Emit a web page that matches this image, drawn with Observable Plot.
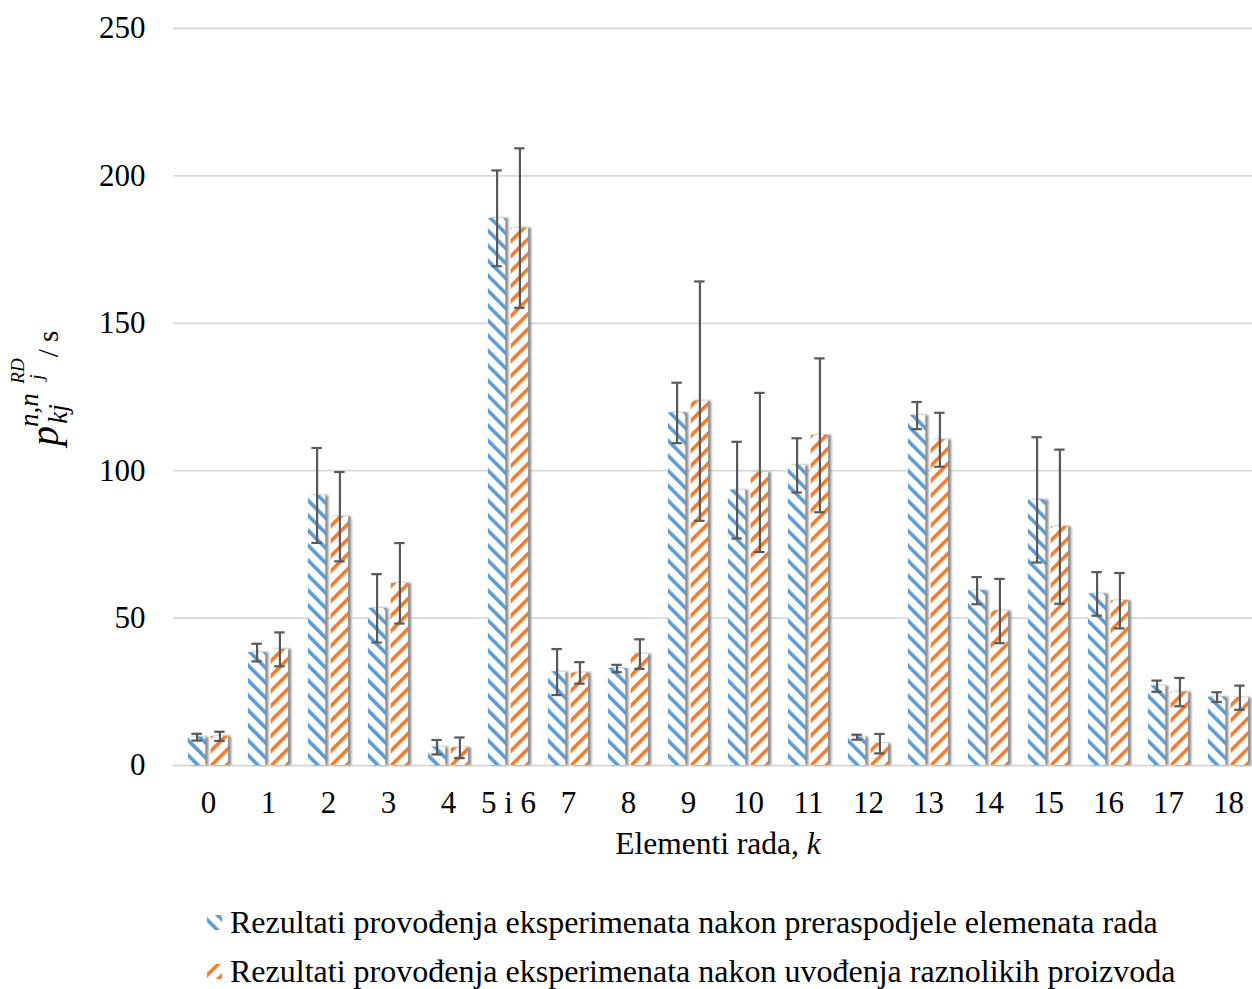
<!DOCTYPE html>
<html><head><meta charset="utf-8">
<script src="https://cdn.jsdelivr.net/npm/d3@7"></script>
<script src="https://cdn.jsdelivr.net/npm/@observablehq/plot@0.6"></script>
<style>
html,body{margin:0;padding:0;background:#fff;overflow:hidden;}
#chart svg{display:block}
#legend{display:block}
</style></head><body>
<svg width="0" height="0" style="position:absolute">
<defs>
<pattern id="hatchBlue" patternUnits="userSpaceOnUse" width="10.6" height="10.6" patternTransform="rotate(-45)">
<rect width="10.6" height="10.6" fill="#fff"/><rect width="3.6" height="10.6" fill="#5b9bd5"/>
</pattern>
<pattern id="hatchOrange" patternUnits="userSpaceOnUse" width="10.6" height="10.6" patternTransform="rotate(45)">
<rect width="10.6" height="10.6" fill="#fff"/><rect width="3.6" height="10.6" fill="#ed7d31"/>
</pattern>
<filter id="soft" x="-50%" y="-10%" width="200%" height="120%"><feGaussianBlur stdDeviation="1.3"/></filter>
</defs></svg>
<div id="chart"></div>
<script>
const categories = ["0","1","2","3","4","5 i 6","7","8","9","10","11","12","13","14","15","16","17","18"];
const seriesNames = [
  "Rezultati provođenja eksperimenata nakon preraspodjele elemenata rada",
  "Rezultati provođenja eksperimenata nakon uvođenja raznolikih proizvoda"
];
const blueMean = [9.6, 38.3, 91.6, 53.3, 6.2, 185.6, 31.7, 32.9, 119.6, 93.4, 101.8, 9.6, 118.7, 59.3, 90.1, 58.2, 26.9, 23.2];
const blueErr  = [1.15, 3.0, 16.1, 11.6, 2.45, 16.25, 7.8, 1.25, 10.25, 16.4, 9.2, 0.85, 4.6, 4.6, 21.25, 7.4, 1.9, 1.65];
const orangeMean = [9.9, 39.4, 84.4, 61.8, 6.0, 182.3, 31.4, 37.8, 123.6, 99.4, 112.0, 7.4, 110.5, 52.4, 81.0, 55.9, 24.9, 23.0];
const orangeErr  = [1.55, 5.75, 15.15, 13.65, 3.5, 27.05, 3.65, 5.0, 40.6, 27.0, 26.1, 3.3, 9.15, 10.9, 26.15, 9.4, 4.8, 4.1];
const yTicks = [0, 50, 100, 150, 200, 250];

const FONT = "'Liberation Serif', 'Times New Roman', Times, 'DejaVu Serif', serif";
const W = 1263, H = 880, ML = 173, MR = 0, MT = 28, MB = H - 765;
const band = (W - ML - MR) / categories.length;
const off = 11.4, barW = 18, capW = 11;
function ins(sign, w) {
  const c = band / 2 + sign * off;
  return {insetLeft: c - w / 2, insetRight: band - c - w / 2};
}
const mk = (mean, err) => categories.map((c, i) => ({cat: c, v: mean[i], lo: mean[i] - err[i], hi: mean[i] + err[i]}));
const dA = mk(blueMean, blueErr), dB = mk(orangeMean, orangeErr);

const plot = Plot.plot({
  width: W, height: H,
  marginLeft: ML, marginRight: MR, marginTop: MT, marginBottom: MB,
  style: {fontFamily: FONT, fontSize: "31px", color: "#000", background: "#fff", maxWidth: "none"},
  x: {type: "band", domain: categories, padding: 0, tickSize: 0, tickPadding: 25, label: null},
  y: {domain: [0, 250], ticks: 5, tickSize: 0, tickPadding: 28, label: null},
  marks: [
    Plot.ruleY(yTicks, {stroke: "#d9d9d9", strokeWidth: 1.8}),
    Plot.barY(dA, {x: "cat", y: "v", fill: "#7f7f7f", dx: 3, ...ins(-1, barW), ariaDescription: "shadow"}),
    Plot.barY(dB, {x: "cat", y: "v", fill: "#7f7f7f", dx: 3, ...ins(1, barW), ariaDescription: "shadow"}),
    Plot.barY(dA, {x: "cat", y: "v", fill: "url(#hatchBlue)", ...ins(-1, barW)}),
    Plot.barY(dB, {x: "cat", y: "v", fill: "url(#hatchOrange)", ...ins(1, barW)}),
    Plot.ruleX(dA, {x: "cat", y1: "lo", y2: "hi", dx: -off, stroke: "#595959", strokeWidth: 2.2}),
    Plot.ruleX(dB, {x: "cat", y1: "lo", y2: "hi", dx: off, stroke: "#595959", strokeWidth: 2.2}),
    Plot.tickY(dA, {x: "cat", y: "lo", stroke: "#595959", strokeWidth: 2.2, ...ins(-1, capW)}),
    Plot.tickY(dA, {x: "cat", y: "hi", stroke: "#595959", strokeWidth: 2.2, ...ins(-1, capW)}),
    Plot.tickY(dB, {x: "cat", y: "lo", stroke: "#595959", strokeWidth: 2.2, ...ins(1, capW)}),
    Plot.tickY(dB, {x: "cat", y: "hi", stroke: "#595959", strokeWidth: 2.2, ...ins(1, capW)})
  ]
});
const svg = d3.select(plot);
svg.attr("font-family", FONT);
svg.selectAll("text").attr("font-family", FONT);
svg.selectAll("[aria-description=shadow]").attr("filter", "url(#soft)").attr("opacity", 0.9);

// x axis title
const xt = svg.append("text").attr("x", (ML + W - MR) / 2).attr("y", 854).attr("text-anchor", "middle")
  .attr("fill", "#000").attr("font-family", FONT).attr("font-size", 31.5);
xt.append("tspan").text("Elementi rada, ");
xt.append("tspan").attr("font-style", "italic").text("k");

// y axis title (rotated)
const yt = svg.append("text").attr("transform", "translate(58,436) rotate(-90)").attr("fill", "#000")
  .attr("font-style", "italic").attr("font-family", FONT);
yt.append("tspan").attr("x", 0).attr("y", 0).attr("font-size", 40).text("p");
yt.append("tspan").attr("x", 22).attr("y", 9).attr("font-size", 27).text("kj");
yt.append("tspan").attr("x", 26).attr("y", -20).attr("font-size", 27).text("n,n");
yt.append("tspan").attr("x", 59).attr("y", -15).attr("font-size", 19).text("j");
yt.append("tspan").attr("x", 65).attr("y", -34).attr("font-size", 19).text("RD");
yt.append("tspan").attr("x", 92).attr("y", 0).attr("font-size", 29).attr("font-style", "normal").text("/ s");

document.getElementById("chart").append(plot);

// legend below
const leg = d3.select("body").append("svg").attr("id", "legend").attr("width", 1252).attr("height", 109)
  .attr("font-family", FONT).attr("font-size", 32);
const fills = ["url(#hatchBlue)", "url(#hatchOrange)"];
const baselines = [53, 102];
seriesNames.forEach((name, i) => {
  leg.append("rect").attr("x", 207).attr("y", baselines[i] - 18).attr("width", 15).attr("height", 15).attr("fill", fills[i]);
  leg.append("text").attr("x", 230).attr("y", baselines[i]).attr("fill", "#000").attr("font-family", FONT).text(name);
});
</script>
</body></html>
